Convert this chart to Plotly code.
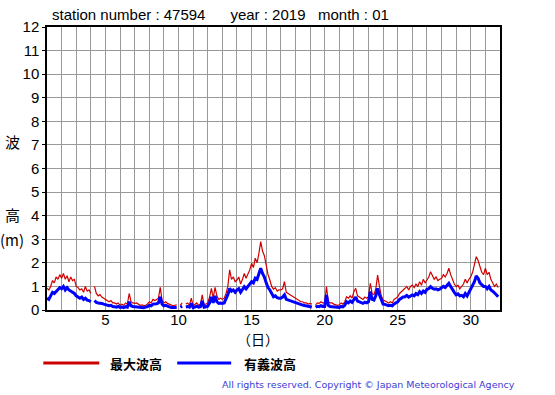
import plotly.graph_objects as go

days = list(range(1, 32))
hours = [0, 3, 6, 9, 12, 15, 18, 21]

max_wave = [
    0.92, 0.85, 1.0, 1.25, 1.15, 1.4, 1.3, 1.5,
    1.35, 1.55, 1.3, 1.45, 1.2, 1.4, 1.25, 1.3,
    1.0, 0.95, 0.85, 0.9, 0.75, 1.0, 0.8, 0.85,
    0.7, None, 1.0, 0.7, 0.6, 0.65, 0.55, 0.5,
    0.45, 0.4, 0.35, 0.4, 0.3, 0.3, 0.25, 0.3,
    0.2, 0.25, 0.2, 0.3, 0.25, 0.7, 0.35, 0.3,
    0.28, 0.3, 0.25, 0.2, 0.22, 0.18, 0.2, 0.25,
    0.35, 0.3, 0.45, 0.4, 0.45, 0.5, 0.96, 0.4,
    0.3, 0.35, 0.28, 0.25, 0.2, 0.18, 0.2, 0.22,
    None, 0.2, 0.3, None, 0.25, 0.3, 0.2, 0.5,
    0.18, 0.25, 0.3, 0.2, 0.25, 0.64, 0.2, 0.25,
    0.3, 0.55, 0.92, 0.5, 0.96, 0.6, 0.45, 0.5,
    0.45, 0.5, 0.7, 1.0, 1.7, 1.3, 1.4, 1.2,
    1.27, 1.4, 1.1, 1.3, 1.55, 1.35, 1.5, 1.7,
    1.98, 1.8, 2.2, 2.0, 2.4, 2.9, 2.5, 2.3,
    1.9, 1.5, 1.27, 1.0, 0.88, 0.95, 0.8, 0.85,
    0.85, 0.9, 1.2, 0.75, 0.7, 0.65, 0.6, 0.55,
    0.5, 0.45, 0.4, 0.35, 0.35, 0.3, 0.3, 0.25,
    0.28, 0.25, None, 0.22, 0.3, 0.28, 0.35, 0.3,
    0.3, 0.99, 0.35, 0.3, 0.3, 0.25, 0.22, 0.2,
    0.22, 0.3, 0.25, 0.35, 0.56, 0.5, 0.6, 0.5,
    0.78, 0.92, 0.6, 0.55, 0.5, 0.45, 0.55, 0.5,
    0.56, 1.13, 0.7, 0.65, 0.9, 1.48, 1.0, 0.6,
    0.42, 0.4, 0.35, 0.3, 0.35, 0.3, 0.45, 0.5,
    0.56, 0.7, 0.8, 0.85, 0.92, 1.0, 0.85, 1.0,
    1.06, 0.95, 1.1, 1.0, 1.2, 1.05, 1.3, 1.15,
    1.27, 1.4, 1.62, 1.45, 1.3, 1.4, 1.25, 1.3,
    1.34, 1.5, 1.4, 1.55, 1.77, 1.5, 1.3, 1.1,
    0.99, 1.05, 0.9, 1.0, 1.1, 1.3, 1.15, 1.3,
    1.41, 1.6, 1.9, 2.26, 2.1, 1.8, 1.6, 1.5,
    1.77, 1.5, 1.6, 1.3, 1.13, 1.0, 1.1, 0.95,
]

sig_wave = [
    0.5, 0.45, 0.6, 0.75, 0.7, 0.8, 0.85, 0.95,
    0.9, 1.0, 0.85, 0.95, 0.85, 0.8, 0.75, 0.7,
    0.6, 0.55, 0.5, 0.55, 0.45, 0.5, 0.42, 0.4,
    0.35, None, 0.4, 0.32, 0.3, 0.3, 0.28, 0.25,
    0.22, 0.2, 0.18, 0.2, 0.15, 0.14, 0.12, 0.15,
    0.11, 0.13, 0.1, 0.14, 0.12, 0.35, 0.18, 0.15,
    0.14, 0.15, 0.12, 0.1, 0.11, 0.1, 0.12, 0.14,
    0.2, 0.18, 0.25, 0.24, 0.26, 0.3, 0.56, 0.25,
    0.18, 0.2, 0.15, 0.13, 0.11, 0.1, 0.11, 0.12,
    None, 0.12, 0.16, None, 0.13, 0.15, 0.12, 0.28,
    0.1, 0.13, 0.16, 0.12, 0.14, 0.38, 0.12, 0.14,
    0.16, 0.3, 0.55, 0.3, 0.6, 0.35, 0.28, 0.3,
    0.28, 0.3, 0.45, 0.65, 0.92, 0.8, 0.85, 0.75,
    0.85, 0.9, 0.75, 0.85, 0.99, 0.9, 1.0, 1.1,
    1.2, 1.15, 1.35, 1.3, 1.5, 1.77, 1.55, 1.4,
    1.15, 0.95, 0.85, 0.7, 0.56, 0.6, 0.52, 0.5,
    0.5, 0.55, 0.64, 0.45, 0.42, 0.4, 0.36, 0.33,
    0.31, 0.28, 0.25, 0.22, 0.21, 0.19, 0.17, 0.16,
    0.14, 0.13, None, 0.12, 0.16, 0.14, 0.18, 0.15,
    0.15, 0.64, 0.2, 0.15, 0.14, 0.12, 0.11, 0.1,
    0.11, 0.15, 0.13, 0.2, 0.35, 0.3, 0.38, 0.32,
    0.45, 0.55, 0.38, 0.34, 0.3, 0.28, 0.33, 0.3,
    0.35, 0.78, 0.45, 0.42, 0.6, 0.92, 0.65, 0.4,
    0.25, 0.24, 0.2, 0.18, 0.2, 0.18, 0.26, 0.3,
    0.35, 0.45, 0.5, 0.55, 0.56, 0.62, 0.55, 0.6,
    0.64, 0.6, 0.7, 0.65, 0.78, 0.7, 0.8, 0.75,
    0.88, 0.9, 0.99, 0.92, 0.88, 0.9, 0.85, 0.88,
    0.96, 1.0, 0.95, 1.05, 1.13, 1.0, 0.85, 0.75,
    0.64, 0.68, 0.6, 0.62, 0.56, 0.7, 0.6, 0.75,
    0.85, 1.0, 1.2, 1.44, 1.35, 1.15, 1.05, 1.0,
    1.0, 0.9, 1.0, 0.85, 0.8, 0.7, 0.65, 0.56,
]

x_ticks = list(range(1, 33))
x_labels = [str(v) if v % 5 == 0 else "" for v in x_ticks]
y_ticks = list(range(0, 13))

times = [d + h / 24 for d in days for h in hours]

FONT = "Liberation Sans, Arial, sans-serif"
CJK = "Noto Sans CJK JP, sans-serif"

fig = go.Figure()
fig.add_trace(go.Scatter(x=times, y=max_wave, mode="lines",
                         line=dict(color="#d00000", width=1.2),
                         connectgaps=False, showlegend=False, hoverinfo="skip"))
fig.add_trace(go.Scatter(x=times, y=sig_wave, mode="lines",
                         line=dict(color="#0000ff", width=3),
                         connectgaps=False, showlegend=False, hoverinfo="skip"))

W, H = 555, 395
L, R, T, B = 46.7, 500, 27, 310
pw, ph = R - L, B - T


def px(x):
    return (x - L) / pw


def py(y):
    return (B - y) / ph


fig.update_layout(
    width=W, height=H,
    margin=dict(l=L, r=W - R, t=T, b=H - B, pad=0),
    paper_bgcolor="white", plot_bgcolor="white",
    font=dict(family=FONT, color="black"),
)
fig.update_xaxes(range=[1, 32], tickvals=x_ticks, ticktext=x_labels,
                 showgrid=True, gridcolor="#999999", gridwidth=1,
                 showline=True, linecolor="black", linewidth=1.5, mirror=True,
                 ticks="", tickfont=dict(size=15, family=FONT), zeroline=False,
                 ticklabelstandoff=-5)
fig.update_yaxes(range=[0, 12], tickvals=y_ticks,
                 showgrid=True, gridcolor="#999999", gridwidth=1,
                 showline=True, linecolor="black", linewidth=1.5, mirror=True,
                 ticks="outside", ticklen=3, tickcolor="black",
                 tickfont=dict(size=15, family=FONT), zeroline=False)

ann = []
ann.append(dict(text="station number : 47594      year : 2019   month : 01",
                x=px(50), y=py(15), xref="paper", yref="paper",
                xanchor="left", yanchor="middle", showarrow=False,
                font=dict(size=15, family=FONT)))
for t, yy in [("波", 141), ("高", 214), ("(m)", 239)]:
    ann.append(dict(text=t, x=px(12), y=py(yy), xref="paper", yref="paper",
                    xanchor="center", yanchor="middle", showarrow=False,
                    font=dict(size=15, family=CJK)))
ann.append(dict(text="（日）", x=px(258), y=py(339), xref="paper", yref="paper",
                xanchor="center", yanchor="middle", showarrow=False,
                font=dict(size=14, family=CJK)))
ann.append(dict(text="<b>最大波高</b>", x=px(108), y=py(363), xref="paper", yref="paper",
                xanchor="left", yanchor="middle", showarrow=False,
                font=dict(size=13, family=CJK)))
ann.append(dict(text="<b>有義波高</b>", x=px(242), y=py(363), xref="paper", yref="paper",
                xanchor="left", yanchor="middle", showarrow=False,
                font=dict(size=13, family=CJK)))
ann.append(dict(text="All rights reserved. Copyright © Japan Meteorological Agency",
                x=px(517), y=py(384), xref="paper", yref="paper",
                xanchor="right", yanchor="middle", showarrow=False,
                font=dict(size=9.5, family="DejaVu Sans, sans-serif", color="#3b3bd6")))
fig.update_layout(annotations=ann)

shapes = [
    dict(type="line", xref="paper", yref="paper", x0=px(43), x1=px(99),
         y0=py(363), y1=py(363), line=dict(color="#cc0000", width=3)),
    dict(type="line", xref="paper", yref="paper", x0=px(177), x1=px(231),
         y0=py(363), y1=py(363), line=dict(color="#0000ff", width=3)),
]
fig.update_layout(shapes=shapes)

fig.write_html("out.html", config={"displayModeBar": False},
               post_script="document.body.style.margin='0px';document.body.style.overflow='hidden';")
